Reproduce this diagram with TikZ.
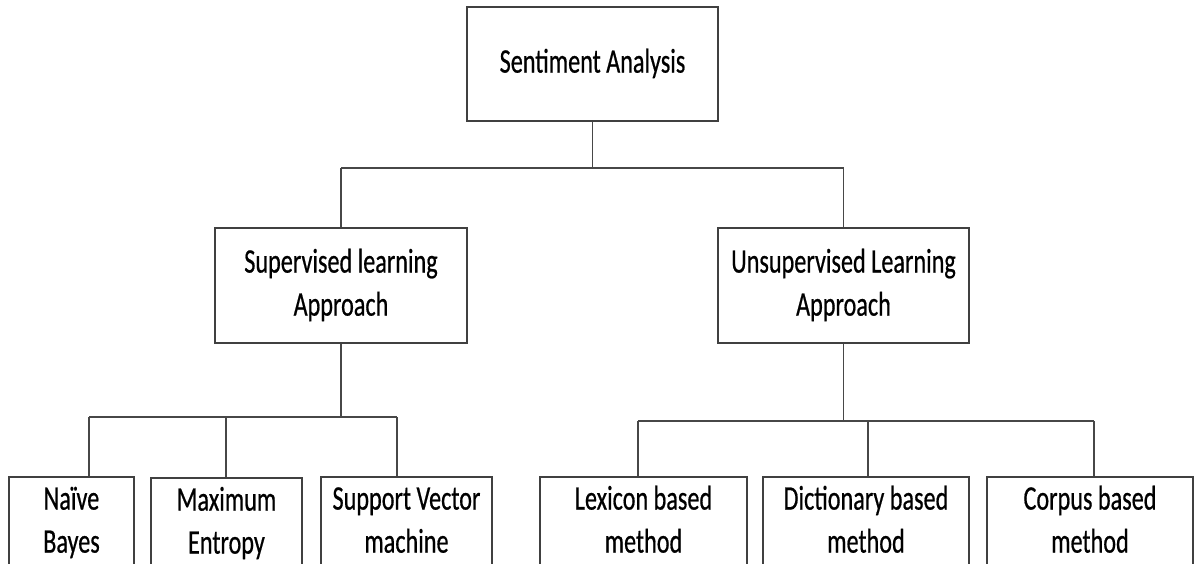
\documentclass[tikz,border=0pt]{standalone}
\usepackage{fontspec}
\setmainfont{Carlito}[FakeBold=0.7]
\usepackage{graphicx}
\newcommand{\vstretch}[1]{\scalebox{1}[1.42]{\begin{tabular}{@{}c@{}}#1\end{tabular}}}
\tikzset{
  box/.style={draw=black!75, line width=1.8pt, rectangle, inner sep=0pt,
              font=\fontsize{24.2}{30.3}\selectfont, text=black},
  conn/.style={draw=black!72, line width=1.7pt}
}
\begin{document}
\begin{tikzpicture}[x=1pt,y=-1pt]
\useasboundingbox (0,0) rectangle (1195,564);
\clip (0,0) rectangle (1195,564);
\fill[white] (0,0) rectangle (1195,564);
% nodes
\node[box, minimum width=251pt, minimum height=114pt] (root) at (592.5,64) {\vstretch{Sentiment Analysis}};
\node[box, minimum width=252pt, minimum height=115pt] (sup) at (341,285.5) {\vstretch{Supervised learning\\Approach}};
\node[box, minimum width=251pt, minimum height=115pt] (uns) at (843.5,285.5) {\vstretch{Unsupervised Learning\\Approach}};
\node[box, minimum width=125pt, minimum height=91pt] (nb) at (71.5,522.5) {\vstretch{Naïve\\Bayes}};
\node[box, minimum width=151pt, minimum height=91pt] (me) at (226.5,523.5) {\vstretch{Maximum\\Entropy}};
\node[box, minimum width=171pt, minimum height=91pt] (svm) at (406.5,522.5) {\vstretch{Support Vector\\machine}};
\node[box, minimum width=207pt, minimum height=91pt] (lex) at (643.5,522.5) {\vstretch{Lexicon based\\method}};
\node[box, minimum width=206pt, minimum height=91pt] (dic) at (866,522.5) {\vstretch{Dictionary based\\method}};
\node[box, minimum width=206pt, minimum height=91pt] (cor) at (1090,522.5) {\vstretch{Corpus based\\method}};
% junction coordinates
\coordinate (tj) at (592.5,168);
\coordinate (bl1) at (89,417);
\coordinate (bl2) at (226,417);
\coordinate (bl3) at (397,417);
\coordinate (br1) at (638,421);
\coordinate (br2) at (868,421);
\coordinate (br3) at (1094,421);
% top level connectors
\draw[conn] (root.south) -- (tj);
\draw[conn] (sup.north |- tj) -- (uns.north |- tj);
\draw[conn] (sup.north |- tj) -- (sup.north);
\draw[conn] (uns.north |- tj) -- (uns.north);
% left group
\draw[conn] (sup.south) -- (sup.south |- bl1);
\draw[conn] (bl1) -- (bl3);
\draw[conn] (bl1) -- (bl1 |- nb.north);
\draw[conn] (bl2) -- (bl2 |- me.north);
\draw[conn] (bl3) -- (bl3 |- svm.north);
% right group
\draw[conn] (uns.south) -- (uns.south |- br1);
\draw[conn] (br1) -- (br3);
\draw[conn] (br1) -- (br1 |- lex.north);
\draw[conn] (br2) -- (br2 |- dic.north);
\draw[conn] (br3) -- (br3 |- cor.north);
\end{tikzpicture}
\end{document}
